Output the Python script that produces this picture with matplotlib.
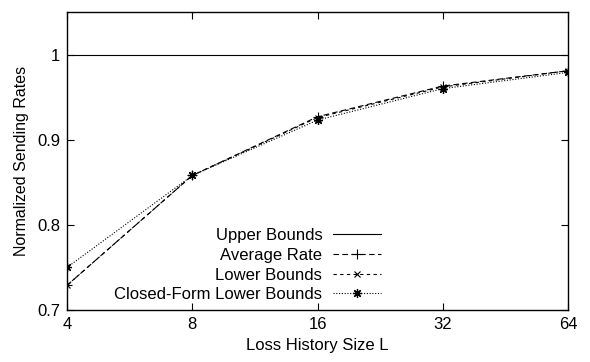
import matplotlib
matplotlib.use("Agg")
import matplotlib.pyplot as plt
from matplotlib.ticker import FixedLocator, FixedFormatter, NullLocator

plt.rcParams['font.family'] = ['Liberation Sans', 'DejaVu Sans']

L = [4, 8, 16, 32, 64]
upper = [1.0, 1.0, 1.0, 1.0, 1.0]
average = [0.729, 0.858, 0.927, 0.963, 0.981]
lower = [0.729, 0.858, 0.926, 0.962, 0.981]
closed = [0.750, 0.858, 0.923, 0.960, 0.979]
xticklabels = ['4', '8', '16', '32', '64']
yticks = [0.7, 0.8, 0.9, 1.0]
yticklabels = ['0.7', '0.8', '0.9', '1']

fig = plt.figure(figsize=(5.9, 3.62), dpi=100)
ax = fig.add_axes([0.1136, 0.1436, 0.8491, 0.8233])

lw = 0.8
ax.plot(L, upper, '-', color='black', lw=lw, label='Upper Bounds')
ax.plot(L, average, color='black', lw=lw, linestyle=(0, (5, 3)), marker='+', ms=7, mew=0.8, label='Average Rate')
ax.plot(L, lower, color='black', lw=lw, linestyle=(0, (3, 3)), marker='x', ms=5, mew=0.8, label='Lower Bounds')
ax.plot(L, closed, color='black', lw=lw, linestyle=(0, (1, 1.5)), marker=(8, 2, 0), ms=6.5, mew=0.9, label='Closed-Form Lower Bounds')

ax.set_xscale('log', base=2)
ax.set_xlim(4, 64)
ax.set_ylim(0.7, 1.05)
ax.xaxis.set_major_locator(FixedLocator(L))
ax.xaxis.set_major_formatter(FixedFormatter(xticklabels))
ax.xaxis.set_minor_locator(NullLocator())
ax.yaxis.set_major_locator(FixedLocator(yticks))
ax.yaxis.set_major_formatter(FixedFormatter(yticklabels))
ax.tick_params(direction='in', top=True, right=True, length=5, width=0.8, labelsize=12, pad=5)
for s in ax.spines.values():
    s.set_linewidth(1.0)

ax.set_xlabel('Loss History Size L', fontsize=12, labelpad=4)
ax.set_ylabel('Normalized Sending Rates', fontsize=11.5, labelpad=6)

ax.legend(loc='lower right', bbox_to_anchor=(0.651, -0.013), frameon=False, markerfirst=False,
          fontsize=12, handlelength=2.9, labelspacing=0.28, handletextpad=0.65, borderpad=0.2)

fig.savefig('out.png', dpi=100)
